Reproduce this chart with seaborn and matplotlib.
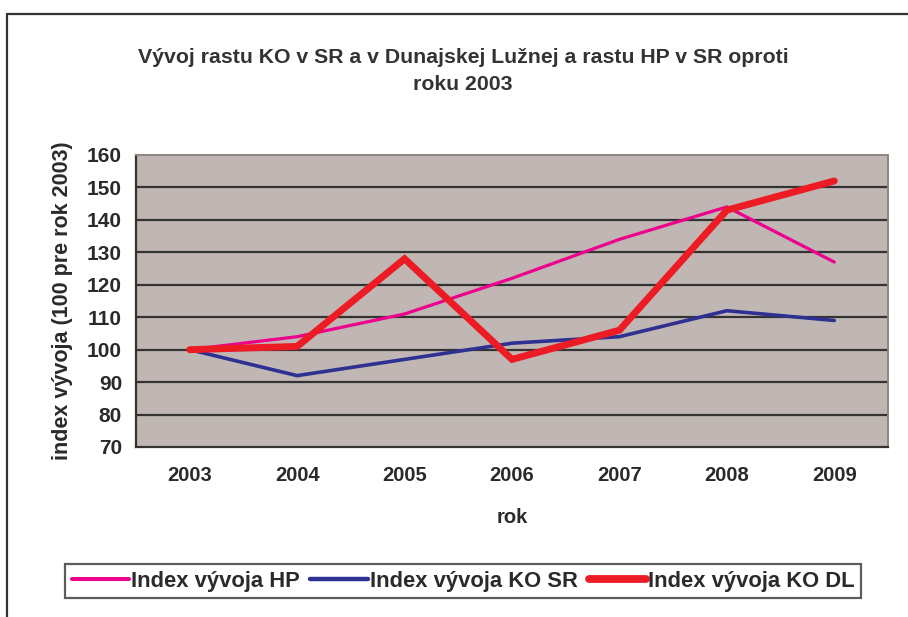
import pandas as pd
import seaborn as sns
import matplotlib.pyplot as plt
from matplotlib.lines import Line2D

roky = [2003, 2004, 2005, 2006, 2007, 2008, 2009]
index_hp = [100, 104, 111, 122, 134, 144, 127]
index_ko_sr = [100, 92, 97, 102, 104, 112, 109]
index_ko_dl = [100, 101, 128, 97, 106, 143, 152]

serie = {
    "Index vývoja HP": index_hp,
    "Index vývoja KO SR": index_ko_sr,
    "Index vývoja KO DL": index_ko_dl,
}
farby = {"Index vývoja HP": "#EC008C", "Index vývoja KO SR": "#2E3192", "Index vývoja KO DL": "#ED1C24"}
hrubky = {"Index vývoja HP": 2.3, "Index vývoja KO SR": 2.6, "Index vývoja KO DL": 5.0}

data = []
for nazov, hodnoty in serie.items():
    for rok, h in zip(roky, hodnoty):
        data.append({"rok": rok, "index": h, "seria": nazov})
df = pd.DataFrame(data)

sns.set_style("white")
plt.rcParams['font.family'] = ['Liberation Sans', 'DejaVu Sans']
plt.rcParams['font.weight'] = 'bold'

fig = plt.figure(figsize=(9.08, 6.17), dpi=100)
ax = fig.add_axes([136 / 908, 1 - 447 / 617, (888 - 136) / 908, (447 - 155) / 617])
ax.set_facecolor("#C0B7B4")

for y in range(80, 160, 10):
    ax.axhline(y, color="#333333", linewidth=1.6, zorder=1)

for nazov in serie:
    sns.lineplot(data=df[df["seria"] == nazov], x="rok", y="index", color=farby[nazov],
                 linewidth=hrubky[nazov], solid_capstyle="round", solid_joinstyle="miter",
                 ax=ax, zorder=3, label=nazov, legend=False)

ax.set_xlim(2002.5, 2009.5)
ax.set_ylim(70, 160)
ax.set_yticks(range(70, 161, 10))
ax.set_xticks([r - 0.5 for r in roky] + [2009.5])
ax.set_xticklabels([])
ax.set_xticks(roky, minor=True)
ax.set_xticklabels([str(r) for r in roky], minor=True, fontsize=14.5, fontweight="bold", color="#2a2a2a")
ax.tick_params(axis="x", which="major", length=6, width=1.6, color="#333333", direction="out")
ax.tick_params(axis="x", which="minor", length=0, pad=14)
ax.tick_params(axis="y", length=6, width=1.6, color="#333333", direction="out", labelsize=15, labelcolor="#2a2a2a", pad=4)
for lbl in ax.get_yticklabels():
    lbl.set_fontweight("bold")

for s in ["left", "bottom"]:
    ax.spines[s].set_color("#333333")
    ax.spines[s].set_linewidth(1.6)
for s in ["top", "right"]:
    ax.spines[s].set_color("#8C8480")
    ax.spines[s].set_linewidth(1.4)

ax.set_xlabel("rok", fontsize=14.5, fontweight="bold", color="#2a2a2a", labelpad=16)
ax.set_ylabel("index vývoja (100 pre rok 2003)", fontsize=15.5, fontweight="bold", color="#2a2a2a", labelpad=10)

fig.text(463 / 908, 1 - 71 / 617, "Vývoj rastu KO v SR a v Dunajskej Lužnej a rastu HP v SR oproti\nroku 2003",
         ha="center", va="center", fontsize=15.3, fontweight="bold", color="#333333", linespacing=1.5)

# ramcek okolo grafu
fig.add_artist(Line2D([7 / 908, 7 / 908], [0, 1 - 14 / 617], color="#333333", linewidth=1.6))
fig.add_artist(Line2D([7 / 908, 1], [1 - 14 / 617, 1 - 14 / 617], color="#333333", linewidth=1.6))

handles = [Line2D([0], [0], color=farby[n], linewidth=hrubky[n] + 0.6, solid_capstyle="round") for n in serie]
leg = fig.legend(handles, list(serie.keys()), loc="center", bbox_to_anchor=(463 / 908, 1 - 581 / 617),
                 ncol=3, frameon=True, fancybox=False, handlelength=2.6, handletextpad=0.1,
                 columnspacing=0.5, borderpad=0.3, borderaxespad=0, prop={"weight": "bold", "size": 15.8})
leg.get_frame().set_edgecolor("#333333")
leg.get_frame().set_linewidth(1.6)
for t in leg.get_texts():
    t.set_color("#2a2a2a")

fig.savefig("out.png", dpi=100)
